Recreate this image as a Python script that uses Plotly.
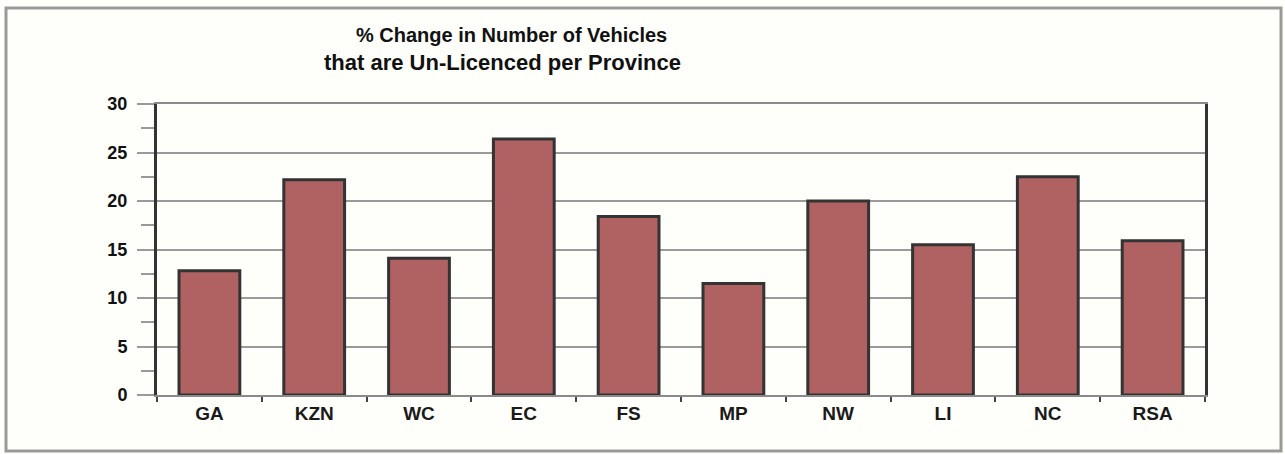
import plotly.graph_objects as go

provinces = ["GA", "KZN", "WC", "EC", "FS", "MP", "NW", "LI", "NC", "RSA"]
pct_change = [12.8, 22.2, 14.1, 26.4, 18.4, 11.5, 20.0, 15.5, 22.5, 15.9]
y_ticks = [0, 5, 10, 15, 20, 25, 30]
title_line1 = "% Change in Number of Vehicles"
title_line2 = "that are Un-Licenced per Province"

W, H = 1285, 454
L, R, T, B = 157, 1205, 104, 395


def px_x(px):
    return (px - L) / (R - L)


def px_y(py):
    return (B - py) / (B - T)


FONT = "Liberation Sans, Arial, sans-serif"

fig = go.Figure(
    go.Bar(
        x=provinces,
        y=pct_change,
        width=0.58,
        marker=dict(color="#B06263", line=dict(color="#333333", width=3)),
    )
)

fig.update_layout(
    width=W,
    height=H,
    margin=dict(l=L, r=W - R, t=T, b=H - B),
    paper_bgcolor="#FEFEFB",
    plot_bgcolor="#FEFEFB",
    showlegend=False,
    font=dict(family=FONT, color="#111111"),
    xaxis=dict(
        showline=True,
        linecolor="#8A8A8A",
        linewidth=2,
        mirror=True,
        ticks="outside",
        ticklen=5,
        tickwidth=2,
        tickcolor="#444444",
        tickson="boundaries",
        tickfont=dict(size=19, family=FONT, color="#1A1A1A", weight="bold"),
        showgrid=False,
        fixedrange=True,
    ),
    yaxis=dict(
        range=[0, 30],
        tickvals=y_ticks,
        showline=True,
        linecolor="#333333",
        linewidth=3,
        mirror=True,
        ticks="outside",
        ticklen=17,
        tickcolor="#9A9A9A",
        tickwidth=1.5,
        showgrid=True,
        gridcolor="#9A9A9A",
        gridwidth=1.5,
        zeroline=False,
        minor=dict(dtick=2.5, ticks="outside", ticklen=13, tickcolor="#9A9A9A", tickwidth=1.5, showgrid=False),
        tickfont=dict(size=18, family=FONT, color="#111111", weight="bold"),
        ticklabelstandoff=6,
    ),
    shapes=[
        dict(
            type="rect", xref="paper", yref="paper",
            x0=px_x(6), x1=px_x(1281), y0=px_y(451), y1=px_y(8),
            line=dict(color="#9A9A9A", width=3), layer="below",
        )
    ],
    annotations=[
        dict(
            text=title_line1, xref="paper", yref="paper",
            x=px_x(511), y=px_y(35), showarrow=False,
            xanchor="center", yanchor="middle",
            font=dict(size=20, family=FONT, color="#111111", weight="bold"),
        ),
        dict(
            text=title_line2, xref="paper", yref="paper",
            x=px_x(502), y=px_y(62), showarrow=False,
            xanchor="center", yanchor="middle",
            font=dict(size=22, family=FONT, color="#111111", weight="bold"),
        ),
    ],
)

fig.write_html(
    "out.html",
    config={"displayModeBar": False},
    post_script="document.body.style.margin='0';document.body.style.overflow='hidden';",
)
